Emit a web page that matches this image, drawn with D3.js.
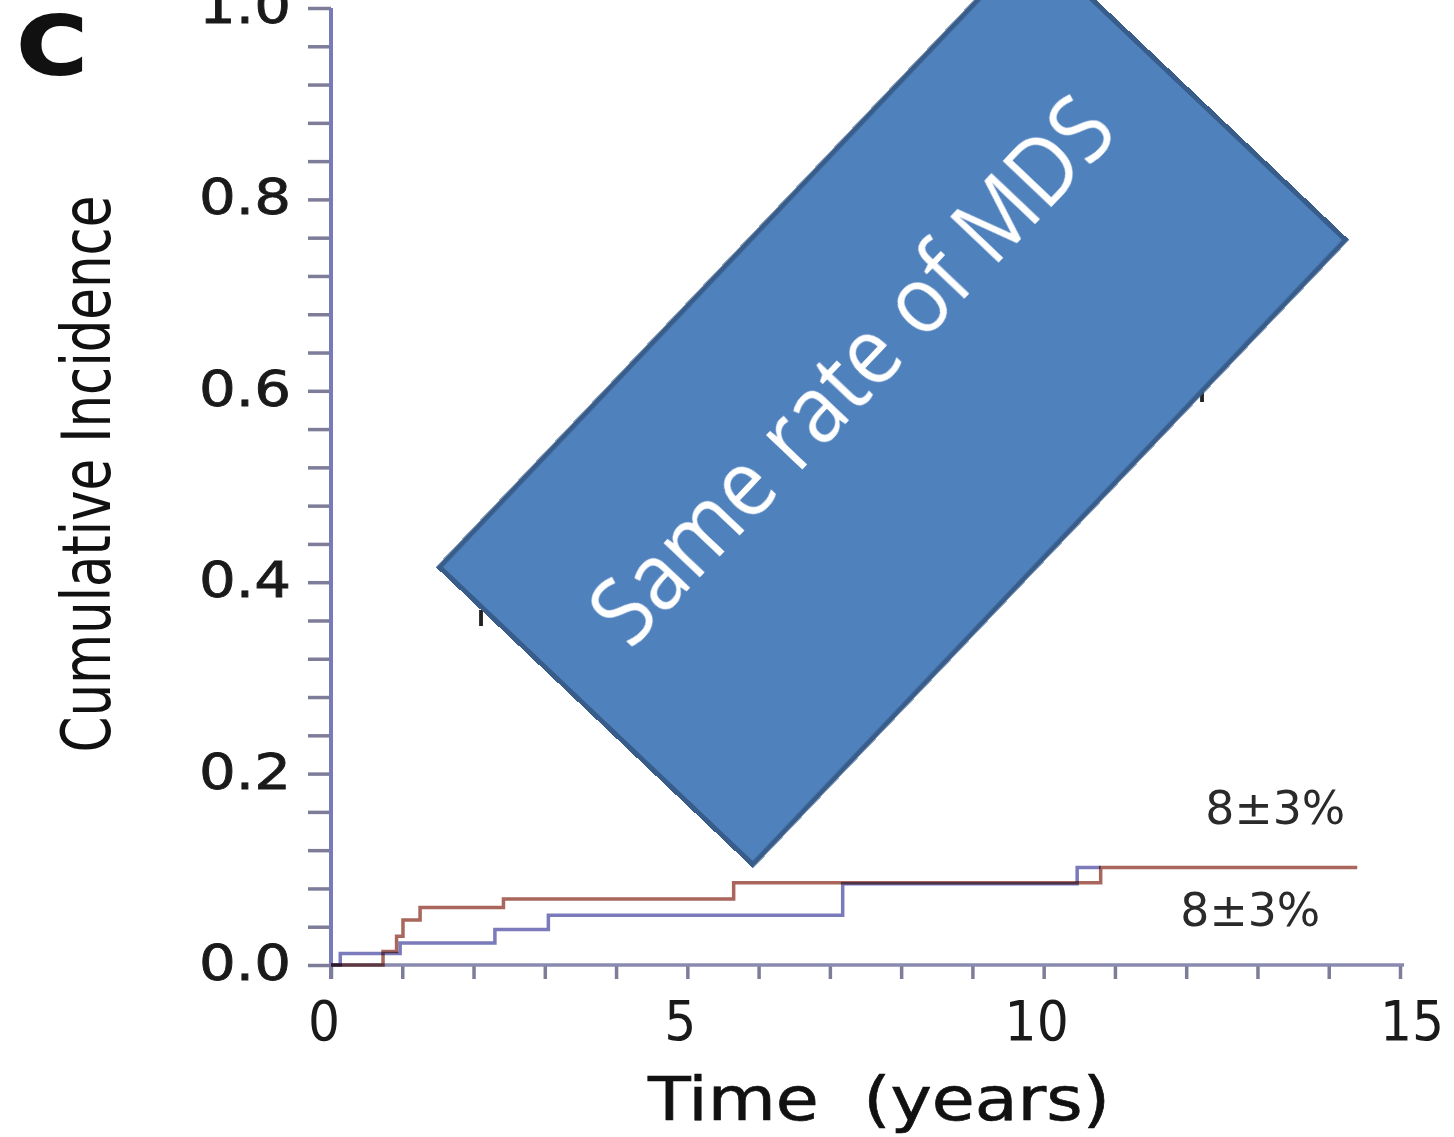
<!DOCTYPE html>
<html>
<head>
<meta charset="utf-8">
<script src="https://cdn.jsdelivr.net/npm/d3@7"></script>
<style>
  body { margin: 0; background: #fff; }
  #chart { width: 1454px; height: 1137px; }
  .step { mix-blend-mode: multiply; }
</style>
</head>
<body>
<div id="chart"></div>
<script>
// step points (time in years, cumulative incidence)
const redTimes   = [0, 0.73, 0.92, 1.01, 1.25, 2.42, 5.65, 10.8, 14.4];
const redValues  = [0, 0.014, 0.030, 0.047, 0.060, 0.069, 0.086, 0.102, 0.102];
const blueTimes  = [0, 0.13, 0.97, 2.30, 3.05, 7.18, 10.47, 10.8];
const blueValues = [0, 0.012, 0.023, 0.037, 0.052, 0.085, 0.102, 0.102];

const yTickValues = [0, 0.2, 0.4, 0.6, 0.8, 1.0];
const yTickLabels = ["0.0", "0.2", "0.4", "0.6", "0.8", "1.0"];
const xTickValues = [0, 5, 10, 15];
const xTickLabels = ["0", "5", "10", "15"];

const endLabels = ["8±3%", "8±3%"];
const endLabelValues = [0.165, 0.058];
const endLabelTimes = [13.25, 12.9];

const bannerText = "Same rate of MDS";

class IncidenceChart {

    constructor(parentElement) {
        this.parentElement = parentElement;
        this.initVis();
    }

    initVis() {
        let vis = this;

        vis.width = 1454;
        vis.height = 1137;

        vis.svg = d3.select("#" + vis.parentElement).append("svg")
            .attr("width", vis.width)
            .attr("height", vis.height);

        vis.x = d3.scaleLinear().domain([0, 15]).range([331, 1400]);
        vis.y = d3.scaleLinear().domain([0, 1]).range([965, 8]);

        vis.drawAxes();
        vis.drawLines();
        vis.drawText();
    }

    drawAxes() {
        let vis = this;
        let axisColor = "#7a7ab8";
        let tickColor = "#7d7d99";

        // y axis: minor ticks every 0.04, labels every 0.2
        let yAxis = vis.svg.append("g")
            .attr("transform", "translate(331,0)")
            .call(d3.axisLeft(vis.y)
                .tickValues(d3.range(0, 1.0001, 0.04))
                .tickSize(23)
                .tickFormat(""));
        yAxis.select(".domain").remove();
        yAxis.selectAll("line").attr("stroke", tickColor).attr("stroke-width", 3.5);

        vis.svg.append("line")
            .attr("x1", 331).attr("x2", 331)
            .attr("y1", vis.y(1)).attr("y2", vis.y(0) + 14)
            .attr("stroke", axisColor).attr("stroke-width", 4);

        vis.svg.selectAll(".ylab")
            .data(yTickValues)
            .enter().append("text")
            .attr("class", "ylab")
            .attr("x", 291)
            .attr("y", d => vis.y(d) + 15)
            .attr("text-anchor", "end")
            .attr("textLength", 92)
            .attr("lengthAdjust", "spacingAndGlyphs")
            .style("font-family", "DejaVu Sans")
            .style("font-size", "49px")
            .style("fill", "#1a1a1a")
            .style("stroke", "#1a1a1a")
            .style("stroke-width", 0.8)
            .text((d, i) => yTickLabels[i]);

        // x axis: ticks every year
        let xAxis = vis.svg.append("g")
            .attr("transform", "translate(0,965)")
            .call(d3.axisBottom(vis.x)
                .tickValues(d3.range(0, 16, 1))
                .tickSize(14)
                .tickFormat(""));
        xAxis.select(".domain").remove();
        xAxis.selectAll("line").attr("stroke", tickColor).attr("stroke-width", 3.5);

        vis.svg.append("line")
            .attr("x1", 331).attr("x2", 1404)
            .attr("y1", 965).attr("y2", 965)
            .attr("stroke", "#8a8ab0").attr("stroke-width", 3.5);

        vis.svg.selectAll(".xlab")
            .data(xTickValues)
            .enter().append("text")
            .attr("class", "xlab")
            .attr("x", d => vis.x(d) + (d === 15 ? 12 : -7))
            .attr("y", 1040)
            .attr("text-anchor", "middle")
            .style("font-family", "DejaVu Sans Condensed, DejaVu Sans")
            .style("font-size", "56px")
            .style("fill", "#1a1a1a")
            .text((d, i) => xTickLabels[i]);
    }

    drawLines() {
        let vis = this;

        let line = d3.line()
            .x(d => vis.x(d.t))
            .y(d => vis.y(d.v))
            .curve(d3.curveStepAfter);

        let red = redTimes.map((t, i) => ({t: t, v: redValues[i]}));
        let blue = blueTimes.map((t, i) => ({t: t, v: blueValues[i]}));

        vis.svg.append("path")
            .attr("class", "step")
            .attr("d", line(red))
            .attr("fill", "none")
            .attr("stroke", "#a8665c")
            .attr("stroke-width", 3.5);

        vis.svg.append("path")
            .attr("class", "step")
            .attr("d", line(blue))
            .attr("fill", "none")
            .attr("stroke", "#7b7bbb")
            .attr("stroke-width", 3.5);

        vis.svg.selectAll(".endlab")
            .data(endLabels)
            .enter().append("text")
            .attr("class", "endlab")
            .attr("x", (d, i) => vis.x(endLabelTimes[i]))
            .attr("y", (d, i) => vis.y(endLabelValues[i]))
            .attr("dy", "0.36em")
            .attr("text-anchor", "middle")
            .attr("textLength", 140)
            .attr("lengthAdjust", "spacingAndGlyphs")
            .style("font-family", "DejaVu Sans")
            .style("font-size", "46px")
            .style("fill", "#2a2a2a")
            .text(d => d);
    }

    drawText() {
        let vis = this;

        // panel letter
        vis.svg.append("text")
            .attr("x", 52).attr("y", 74)
            .attr("text-anchor", "middle")
            .attr("textLength", 70)
            .attr("lengthAdjust", "spacingAndGlyphs")
            .style("font-family", "DejaVu Sans")
            .style("font-weight", "bold")
            .style("font-size", "80px")
            .style("fill", "#111")
            .style("stroke", "#111")
            .style("stroke-width", 2)
            .text("C");

        // y axis title
        vis.svg.append("text")
            .attr("transform", "translate(110,474) rotate(-90)")
            .attr("text-anchor", "middle")
            .attr("textLength", 557)
            .attr("lengthAdjust", "spacingAndGlyphs")
            .style("font-family", "DejaVu Sans Condensed, DejaVu Sans")
            .style("font-size", "68px")
            .style("fill", "#111")
            .text("Cumulative Incidence");

        // x axis title
        vis.svg.append("text")
            .attr("x", 879).attr("y", 1120)
            .attr("text-anchor", "middle")
            .attr("textLength", 462)
            .attr("lengthAdjust", "spacingAndGlyphs")
            .style("font-family", "DejaVu Sans Condensed, DejaVu Sans")
            .style("font-size", "60px")
            .style("fill", "#111")
            .style("stroke", "#111")
            .style("stroke-width", 0.6)
            .style("white-space", "pre")
            .text("Time  (years)");

        // bits of text that peek out from behind the banner
        vis.svg.append("text")
            .attr("x", 481).attr("y", 626)
            .attr("text-anchor", "middle")
            .style("font-family", "DejaVu Sans")
            .style("font-weight", "bold")
            .style("font-size", "22px")
            .style("fill", "#222")
            .text("l");
        vis.svg.append("text")
            .attr("x", 1202).attr("y", 402)
            .attr("text-anchor", "middle")
            .style("font-family", "DejaVu Sans")
            .style("font-weight", "bold")
            .style("font-size", "22px")
            .style("fill", "#222")
            .text("l");

        // tilted banner
        let banner = vis.svg.append("g")
            .attr("transform", "translate(892.5,403.5) rotate(-46.5)");

        banner.append("rect")
            .attr("x", -430.5).attr("y", -216)
            .attr("width", 861).attr("height", 432)
            .attr("fill", "#4f81bd")
            .attr("stroke", "#385d8a")
            .attr("stroke-width", 5);

        banner.append("text")
            .attr("x", -4).attr("y", -53)
            .attr("dy", "0.35em")
            .attr("text-anchor", "middle")
            .attr("textLength", 712)
            .attr("lengthAdjust", "spacingAndGlyphs")
            .style("font-family", "Open Sans")
            .style("font-size", "94px")
            .style("fill", "#fff")
            .text(bannerText);
    }
}

new IncidenceChart("chart");
</script>
</body>
</html>
